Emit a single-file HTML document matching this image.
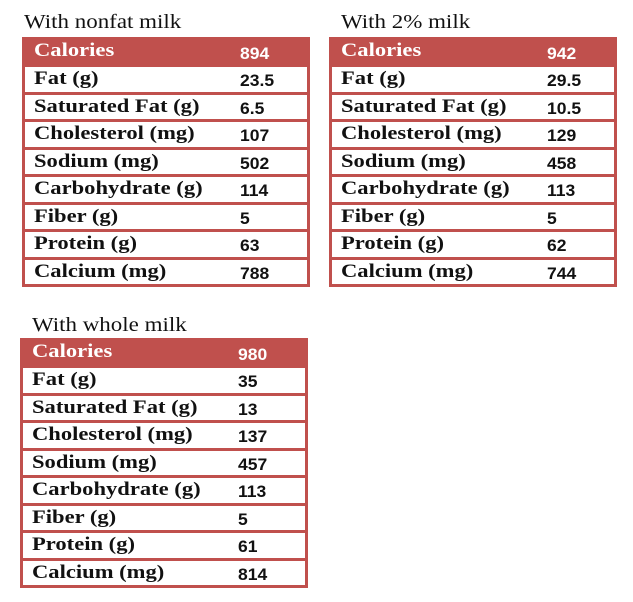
<!DOCTYPE html>
<html><head><meta charset="utf-8"><style>
body{margin:0;width:633px;height:602px;background:#fff;position:relative;overflow:hidden}
.t{position:absolute;width:288px;height:250px;background:#c0504d}
.ttl{position:absolute;font:20.5px "Liberation Serif",serif;color:#111;transform:scaleX(1.12);transform-origin:0 0;white-space:nowrap}
.r{position:absolute;left:3px;width:282px;height:24.5px;background:#fff}
.h{position:absolute;left:0;top:0;width:288px;height:30px}
.l{position:absolute;left:9px;top:2px;font:bold 18.5px "Liberation Serif",serif;color:#111;white-space:nowrap;transform:scaleX(1.22);transform-origin:0 0}
.v{position:absolute;left:215px;top:4px;font:bold 17px "Liberation Sans",sans-serif;color:#111;transform:scaleX(1.03);transform-origin:0 0}
.h .l{left:12px;top:4px;color:#fff}.h .v{left:218px;top:7px;color:#fff}
</style></head><body>
<div class="ttl" style="left:24px;top:11px">With nonfat milk</div>
<div class="ttl" style="left:341px;top:11px">With 2% milk</div>
<div class="ttl" style="left:32px;top:314px">With whole milk</div>

<div class="t" style="left:22px;top:37px">
<div class="h"><span class="l">Calories</span><span class="v">894</span></div>
<div class="r" style="top:30px"><span class="l">Fat (g)</span><span class="v">23.5</span></div>
<div class="r" style="top:57.5px"><span class="l">Saturated Fat (g)</span><span class="v">6.5</span></div>
<div class="r" style="top:85px"><span class="l">Cholesterol (mg)</span><span class="v">107</span></div>
<div class="r" style="top:112.5px"><span class="l">Sodium (mg)</span><span class="v">502</span></div>
<div class="r" style="top:140px"><span class="l">Carbohydrate (g)</span><span class="v">114</span></div>
<div class="r" style="top:167.5px"><span class="l">Fiber (g)</span><span class="v">5</span></div>
<div class="r" style="top:195px"><span class="l">Protein (g)</span><span class="v">63</span></div>
<div class="r" style="top:222.5px"><span class="l">Calcium (mg)</span><span class="v">788</span></div>
</div>

<div class="t" style="left:329px;top:37px">
<div class="h"><span class="l">Calories</span><span class="v">942</span></div>
<div class="r" style="top:30px"><span class="l">Fat (g)</span><span class="v">29.5</span></div>
<div class="r" style="top:57.5px"><span class="l">Saturated Fat (g)</span><span class="v">10.5</span></div>
<div class="r" style="top:85px"><span class="l">Cholesterol (mg)</span><span class="v">129</span></div>
<div class="r" style="top:112.5px"><span class="l">Sodium (mg)</span><span class="v">458</span></div>
<div class="r" style="top:140px"><span class="l">Carbohydrate (g)</span><span class="v">113</span></div>
<div class="r" style="top:167.5px"><span class="l">Fiber (g)</span><span class="v">5</span></div>
<div class="r" style="top:195px"><span class="l">Protein (g)</span><span class="v">62</span></div>
<div class="r" style="top:222.5px"><span class="l">Calcium (mg)</span><span class="v">744</span></div>
</div>

<div class="t" style="left:20px;top:338px">
<div class="h"><span class="l">Calories</span><span class="v">980</span></div>
<div class="r" style="top:30px"><span class="l">Fat (g)</span><span class="v">35</span></div>
<div class="r" style="top:57.5px"><span class="l">Saturated Fat (g)</span><span class="v">13</span></div>
<div class="r" style="top:85px"><span class="l">Cholesterol (mg)</span><span class="v">137</span></div>
<div class="r" style="top:112.5px"><span class="l">Sodium (mg)</span><span class="v">457</span></div>
<div class="r" style="top:140px"><span class="l">Carbohydrate (g)</span><span class="v">113</span></div>
<div class="r" style="top:167.5px"><span class="l">Fiber (g)</span><span class="v">5</span></div>
<div class="r" style="top:195px"><span class="l">Protein (g)</span><span class="v">61</span></div>
<div class="r" style="top:222.5px"><span class="l">Calcium (mg)</span><span class="v">814</span></div>
</div>
</body></html>
